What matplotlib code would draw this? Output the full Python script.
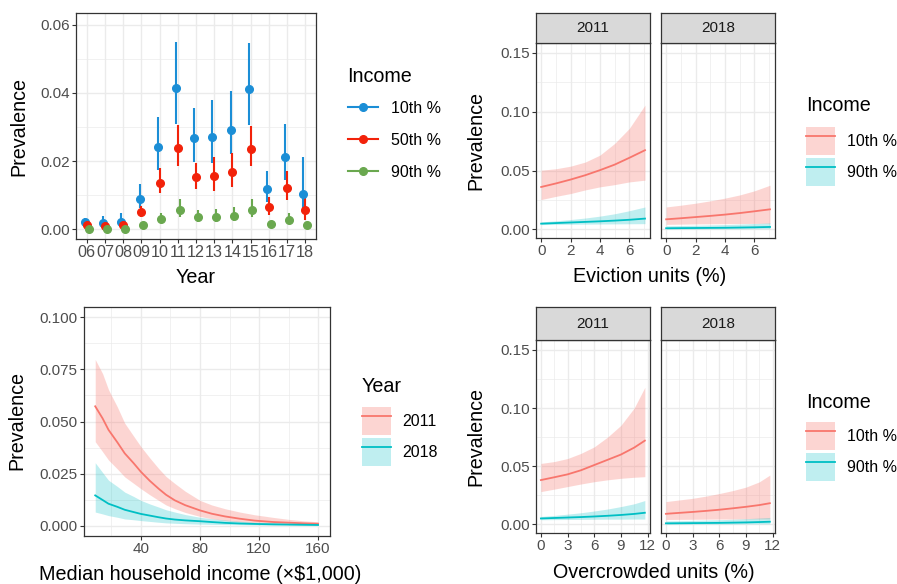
import numpy as np
import matplotlib.pyplot as plt
from matplotlib.lines import Line2D
from matplotlib.patches import Patch
from matplotlib.legend_handler import HandlerTuple

plt.rcParams['font.family'] = ['Liberation Sans', 'DejaVu Sans']

# ---- panel A: yearly prevalence by income percentile ----
years = ['06', '07', '08', '09', '10', '11', '12', '13', '14', '15', '16', '17', '18']
p10 = [0.0023, 0.0019, 0.0023, 0.0090, 0.0242, 0.0413, 0.0267, 0.0272, 0.0291, 0.0410, 0.0117, 0.0213, 0.0103]
p10_lo = [0.0014, 0.0009, 0.0011, 0.0062, 0.0174, 0.0310, 0.0199, 0.0196, 0.0220, 0.0306, 0.0080, 0.0145, 0.0048]
p10_hi = [0.0033, 0.0038, 0.0048, 0.0133, 0.0328, 0.0550, 0.0356, 0.0379, 0.0406, 0.0546, 0.0172, 0.0310, 0.0211]
p50 = [0.0012, 0.0010, 0.0012, 0.0051, 0.0137, 0.0240, 0.0153, 0.0157, 0.0167, 0.0237, 0.0065, 0.0121, 0.0058]
p50_lo = [0.0006, 0.0004, 0.0006, 0.0036, 0.0106, 0.0187, 0.0118, 0.0114, 0.0124, 0.0186, 0.0043, 0.0085, 0.0028]
p50_hi = [0.0017, 0.0015, 0.0019, 0.0070, 0.0179, 0.0306, 0.0196, 0.0211, 0.0223, 0.0303, 0.0096, 0.0172, 0.0101]
p90 = [0.0002, 0.0002, 0.0002, 0.0012, 0.0032, 0.0057, 0.0036, 0.0037, 0.0040, 0.0056, 0.0016, 0.0029, 0.0014]
p90_lo = [0.0000, 0.0000, 0.0000, 0.0007, 0.0020, 0.0036, 0.0023, 0.0023, 0.0026, 0.0036, 0.0011, 0.0019, 0.0007]
p90_hi = [0.0005, 0.0005, 0.0005, 0.0017, 0.0048, 0.0090, 0.0057, 0.0061, 0.0065, 0.0090, 0.0022, 0.0048, 0.0021]

# ---- panel B: eviction units ----
evict_x = [0, 1, 2, 3, 4, 5, 6, 7.07]
ev11_10 = [0.0360, 0.0390, 0.0423, 0.0460, 0.0503, 0.0550, 0.0608, 0.0673]
ev11_10_lo = [0.0253, 0.0280, 0.0304, 0.0335, 0.0361, 0.0380, 0.0403, 0.0418]
ev11_10_hi = [0.0503, 0.0515, 0.0537, 0.0572, 0.0631, 0.0730, 0.0858, 0.1057]
ev11_90 = [0.0048, 0.0053, 0.0058, 0.0063, 0.0068, 0.0074, 0.0081, 0.0091]
ev11_90_lo = [0.0040, 0.0042, 0.0043, 0.0044, 0.0045, 0.0046, 0.0047, 0.0048]
ev11_90_hi = [0.0063, 0.0072, 0.0083, 0.0096, 0.0112, 0.0132, 0.0158, 0.0190]
ev18_10 = [0.0085, 0.0094, 0.0104, 0.0114, 0.0125, 0.0138, 0.0153, 0.0170]
ev18_10_lo = [0.0042, 0.0044, 0.0046, 0.0047, 0.0048, 0.0049, 0.0050, 0.0051]
ev18_10_hi = [0.0190, 0.0205, 0.0222, 0.0242, 0.0265, 0.0292, 0.0327, 0.0375]
ev18_90 = [0.0009, 0.0010, 0.0011, 0.0012, 0.0013, 0.0015, 0.0017, 0.0020]
ev18_90_lo = [0.0003, 0.0003, 0.0003, 0.0004, 0.0004, 0.0004, 0.0005, 0.0005]
ev18_90_hi = [0.0030, 0.0032, 0.0034, 0.0037, 0.0040, 0.0044, 0.0049, 0.0055]

# ---- panel C: median household income (x $1,000) ----
inc_x = [9, 14, 18, 24, 29, 35, 40, 46, 52, 57, 63, 70, 80, 88, 97, 107, 117, 130, 140, 150, 160]
inc11 = [0.0573, 0.0515, 0.0460, 0.0400, 0.0347, 0.0300, 0.0258, 0.0215, 0.0177, 0.0148, 0.0121,
         0.0098, 0.0073, 0.0057, 0.0044, 0.0033, 0.0024, 0.0017, 0.0014, 0.0011, 0.0009]
inc11_lo = [0.0403, 0.0355, 0.0315, 0.0272, 0.0234, 0.0203, 0.0177, 0.0148, 0.0121, 0.0099, 0.0081,
            0.0063, 0.0044, 0.0033, 0.0024, 0.0018, 0.0014, 0.0010, 0.0008, 0.0006, 0.0004]
inc11_hi = [0.0798, 0.0730, 0.0653, 0.0570, 0.0492, 0.0430, 0.0379, 0.0325, 0.0274, 0.0236, 0.0202,
            0.0165, 0.0121, 0.0099, 0.0081, 0.0065, 0.0052, 0.0039, 0.0030, 0.0023, 0.0018]
inc18 = [0.0145, 0.0123, 0.0105, 0.0090, 0.0076, 0.0065, 0.0056, 0.0048, 0.0040, 0.0034, 0.0029,
         0.0025, 0.0021, 0.0017, 0.0013, 0.0010, 0.0008, 0.0006, 0.0005, 0.0004, 0.0003]
inc18_lo = [0.0065, 0.0056, 0.0048, 0.0040, 0.0032, 0.0028, 0.0024, 0.0020, 0.0016, 0.0013, 0.0011,
            0.0009, 0.0007, 0.0006, 0.0005, 0.0004, 0.0003, 0.0002, 0.0002, 0.0001, 0.0001]
inc18_hi = [0.0302, 0.0255, 0.0218, 0.0188, 0.0161, 0.0140, 0.0121, 0.0104, 0.0089, 0.0076, 0.0065,
            0.0053, 0.0040, 0.0033, 0.0027, 0.0021, 0.0016, 0.0013, 0.0010, 0.0008, 0.0006]

# ---- panel D: overcrowded units ----
crowd_x = [0, 1.5, 3, 4.5, 6, 7.5, 9, 10.5, 11.7]
cr11_10 = [0.0381, 0.0405, 0.0430, 0.0465, 0.0510, 0.0555, 0.0600, 0.0660, 0.0720]
cr11_10_lo = [0.0282, 0.0303, 0.0325, 0.0347, 0.0367, 0.0383, 0.0396, 0.0405, 0.0410]
cr11_10_hi = [0.0524, 0.0540, 0.0566, 0.0610, 0.0666, 0.0750, 0.0851, 0.1000, 0.1178]
cr11_90 = [0.0051, 0.0055, 0.0059, 0.0063, 0.0068, 0.0074, 0.0081, 0.0090, 0.0100]
cr11_90_lo = [0.0040, 0.0041, 0.0042, 0.0043, 0.0044, 0.0045, 0.0045, 0.0046, 0.0046]
cr11_90_hi = [0.0068, 0.0077, 0.0088, 0.0100, 0.0115, 0.0132, 0.0153, 0.0177, 0.0205]
cr18_10 = [0.0091, 0.0099, 0.0107, 0.0116, 0.0126, 0.0138, 0.0151, 0.0166, 0.0182]
cr18_10_lo = [0.0042, 0.0043, 0.0044, 0.0045, 0.0046, 0.0046, 0.0047, 0.0047, 0.0047]
cr18_10_hi = [0.0196, 0.0210, 0.0224, 0.0243, 0.0265, 0.0290, 0.0320, 0.0365, 0.0424]
cr18_90 = [0.0009, 0.0010, 0.0011, 0.0012, 0.0013, 0.0015, 0.0017, 0.0020, 0.0023]
cr18_90_lo = [0.0003, 0.0003, 0.0003, 0.0004, 0.0004, 0.0004, 0.0005, 0.0005, 0.0005]
cr18_90_hi = [0.0030, 0.0032, 0.0034, 0.0037, 0.0040, 0.0044, 0.0049, 0.0055, 0.0060]

W, H = 897, 584
BLUE, RED, GREEN = '#1B8ED6', '#F2220A', '#6AA84F'
SALMON, TEAL = '#F8766D', '#00BFC4'
GRID = '#EBEBEB'
TICKC = '#4D4D4D'
EDGE = '#333333'
TITLE_FS = 14.2
LAB_FS = 11.5
TICK_FS = 11

fig = plt.figure(figsize=(W / 100, H / 100), dpi=100)


def add_ax(l, t, r, b):
    return fig.add_axes([l / W, 1 - b / H, (r - l) / W, (b - t) / H])


def style(ax, left_ticks=True):
    ax.set_facecolor('white')
    ax.grid(True, which='major', color=GRID, lw=1.0)
    ax.grid(True, which='minor', color=GRID, lw=0.5)
    ax.set_axisbelow(True)
    for s in ax.spines.values():
        s.set_color(EDGE)
        s.set_linewidth(0.9)
    ax.tick_params(which='major', length=3, width=0.8, color=EDGE,
                   labelsize=TICK_FS, labelcolor=TICKC, pad=1.5)
    ax.tick_params(which='minor', length=0)
    if not left_ticks:
        ax.tick_params(axis='y', which='both', left=False, labelleft=False)


def strip(l, t, r, b, label):
    s = add_ax(l, t, r, b)
    s.set_facecolor('#D9D9D9')
    s.set_xticks([])
    s.set_yticks([])
    for sp in s.spines.values():
        sp.set_color(EDGE)
        sp.set_linewidth(0.9)
    s.text(0.5, 0.5, label, ha='center', va='center', fontsize=11, color='#1A1A1A',
           transform=s.transAxes)


def legend_title(text, x, y):
    fig.text(x / W, 1 - y / H, text, ha='left', va='center', fontsize=TITLE_FS)


def ribbon_legend(ax, title, labels, x, y_title, y_keys):
    legend_title(title, x, y_title)
    handles = []
    for c, a in ((SALMON, 0.3), (TEAL, 0.25)):
        handles.append((Patch(facecolor=c, alpha=a, edgecolor='none'),
                        Line2D([], [], color=c, lw=1.3)))
    leg = ax.legend(handles, labels, loc='upper left',
                    bbox_to_anchor=(x / W, 1 - y_keys / H), bbox_transform=fig.transFigure,
                    frameon=False, fontsize=LAB_FS,
                    handlelength=1.8, handleheight=2.3, handletextpad=0.75,
                    labelspacing=0.2, borderpad=0, borderaxespad=0,
                    handler_map={tuple: HandlerTuple(ndivide=1, pad=0)})
    return leg


# ---------------- Panel A ----------------
axA = add_ax(76, 13, 316, 239)
style(axA)
pos = np.arange(1, len(years) + 1)
dodge = 0.1
for vals, lo, hi, col, off in ((p10, p10_lo, p10_hi, BLUE, -dodge),
                               (p50, p50_lo, p50_hi, RED, 0.0),
                               (p90, p90_lo, p90_hi, GREEN, dodge)):
    v = np.array(vals)
    axA.errorbar(pos + off, v, yerr=[v - np.array(lo), np.array(hi) - v],
                 fmt='o', color=col, ecolor=col, elinewidth=1.5, markersize=5.5,
                 capsize=0, zorder=3)
axA.set_xlim(0.4, len(years) + 0.6)
axA.set_ylim(-0.0028, 0.0634)
axA.set_xticks(pos)
axA.set_xticklabels(years)
axA.set_yticks([0, 0.02, 0.04, 0.06])
axA.set_yticklabels(['0.00', '0.02', '0.04', '0.06'])
axA.set_yticks([0.01, 0.03, 0.05], minor=True)
axA.tick_params(axis='x', labelsize=11.6)
fig.text(196 / W, 1 - 277 / H, 'Year', ha='center', va='center', fontsize=TITLE_FS)
fig.text(19 / W, 1 - 126 / H, 'Prevalence', ha='center', va='center', rotation=90, fontsize=TITLE_FS)
legend_title('Income', 347, 76)
handlesA = [Line2D([], [], color=c, marker='o', markersize=5.5, lw=1.5) for c in (BLUE, RED, GREEN)]
axA.legend(handlesA, ['10th %', '50th %', '90th %'], loc='upper left',
           bbox_to_anchor=(348 / W, 1 - 101 / H), bbox_transform=fig.transFigure,
           frameon=False, fontsize=LAB_FS, handlelength=1.9,
           handletextpad=0.8, labelspacing=1.05, borderpad=0, borderaxespad=0)


# ---------------- faceted panels B and D ----------------
def facet_pair(top, strip_b, bottom, xs, series, xlim, xmajor, xminor, xlabel, xlab_x, xlab_y):
    axes = []
    for i, (l, r) in enumerate(((536, 650), (661, 775))):
        ax = add_ax(l, strip_b, r, bottom)
        style(ax, left_ticks=(i == 0))
        strip(l, top, r, strip_b, ['2011', '2018'][i])
        for vals, lo, hi, col, a in series[i]:
            ax.fill_between(xs, lo, hi, color=col, alpha=a, lw=0, zorder=2)
            ax.plot(xs, vals, color=col, lw=1.3, zorder=3)
        ax.set_xlim(*xlim)
        ax.set_ylim(-0.0074, 0.1585)
        ax.set_xticks(xmajor)
        ax.set_xticks(xminor, minor=True)
        ax.set_yticks([0, 0.05, 0.10, 0.15])
        ax.set_yticklabels(['0.00', '0.05', '0.10', '0.15'])
        ax.set_yticks([0.025, 0.075, 0.125], minor=True)
        axes.append(ax)
    fig.text(xlab_x / W, 1 - xlab_y / H, xlabel, ha='center', va='center', fontsize=TITLE_FS)
    fig.text(476 / W, 1 - (strip_b + bottom) / 2 / H, 'Prevalence', ha='center', va='center',
             rotation=90, fontsize=TITLE_FS)
    return axes


seriesB = [
    [(ev11_10, ev11_10_lo, ev11_10_hi, SALMON, 0.3), (ev11_90, ev11_90_lo, ev11_90_hi, TEAL, 0.25)],
    [(ev18_10, ev18_10_lo, ev18_10_hi, SALMON, 0.3), (ev18_90, ev18_90_lo, ev18_90_hi, TEAL, 0.25)],
]
axB = facet_pair(13, 43, 238, evict_x, seriesB, (-0.35, 7.41), [0, 2, 4, 6], [1, 3, 5, 7],
                 'Eviction units (%)', 650, 276)
ribbon_legend(axB[1], 'Income', ['10th %', '90th %'], 806, 106, 127)

seriesD = [
    [(cr11_10, cr11_10_lo, cr11_10_hi, SALMON, 0.3), (cr11_90, cr11_90_lo, cr11_90_hi, TEAL, 0.25)],
    [(cr18_10, cr18_10_lo, cr18_10_hi, SALMON, 0.3), (cr18_90, cr18_90_lo, cr18_90_hi, TEAL, 0.25)],
]
axD = facet_pair(307, 340, 533, crowd_x, seriesD, (-0.55, 12.28), [0, 3, 6, 9, 12],
                 [1.5, 4.5, 7.5, 10.5], 'Overcrowded units (%)', 654, 573)
ribbon_legend(axD[1], 'Income', ['10th %', '90th %'], 806, 402, 422)

# ---------------- Panel C ----------------
axC = add_ax(84, 307, 330, 536)
style(axC)
axC.fill_between(inc_x, inc11_lo, inc11_hi, color=SALMON, alpha=0.3, lw=0, zorder=2)
axC.plot(inc_x, inc11, color=SALMON, lw=1.3, zorder=3)
axC.fill_between(inc_x, inc18_lo, inc18_hi, color=TEAL, alpha=0.25, lw=0, zorder=2)
axC.plot(inc_x, inc18, color=TEAL, lw=1.3, zorder=3)
axC.set_xlim(1.4, 168.1)
axC.set_ylim(-0.005, 0.105)
axC.set_xticks([40, 80, 120, 160])
axC.set_xticks([20, 60, 100, 140], minor=True)
axC.set_yticks([0, 0.025, 0.05, 0.075, 0.1])
axC.set_yticklabels(['0.000', '0.025', '0.050', '0.075', '0.100'])
axC.set_yticks([0.0125, 0.0375, 0.0625, 0.0875], minor=True)
fig.text(200 / W, 1 - 575 / H, 'Median household income (×$1,000)', ha='center', va='center',
         fontsize=TITLE_FS)
fig.text(17 / W, 1 - 421 / H, 'Prevalence', ha='center', va='center', rotation=90, fontsize=TITLE_FS)
ribbon_legend(axC, 'Year', ['2011', '2018'], 362, 387, 407)

fig.savefig('out.png', dpi=100)
